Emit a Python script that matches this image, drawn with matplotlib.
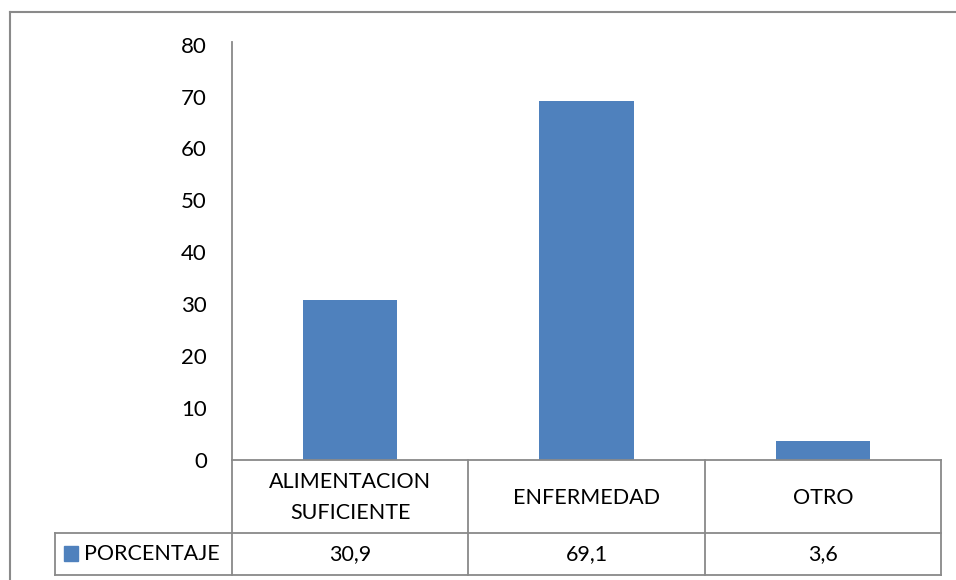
import matplotlib
matplotlib.use("Agg")
import matplotlib.pyplot as plt
from matplotlib.lines import Line2D
from matplotlib.patches import Rectangle
import matplotlib.transforms as mtransforms

categories = ["ALIMENTACION\nSUFICIENTE", "ENFERMEDAD", "OTRO"]
values = [30.9, 69.1, 3.6]
value_labels = ["30,9", "69,1", "3,6"]
series_name = "PORCENTAJE"
yticks = [0, 10, 20, 30, 40, 50, 60, 70, 80]

plt.rcParams['font.family'] = ['Lato', 'DejaVu Sans']

W, H = 956, 580
fig = plt.figure(figsize=(W / 100, H / 100), dpi=100)

def fx(px):
    return px / W

def fy(py):
    return 1 - py / H

ax_left, ax_right, ax_top, ax_bottom = 232, 941, 42, 460
ax = fig.add_axes([fx(ax_left), fy(ax_bottom), fx(ax_right - ax_left), (ax_bottom - ax_top) / H])

bar_color = "#4F81BD"
grid_color = "#898989"
x = list(range(len(categories)))
ax.bar(x, values, width=0.4, color=bar_color, zorder=2)
ax.set_xlim(-0.5, len(categories) - 0.5)
ax.set_ylim(0, 80.5)
ax.set_yticks(yticks)
ax.set_yticklabels([str(t) for t in yticks], fontsize=16)
ax.tick_params(axis='y', length=0, pad=18)
ax.set_xticks([])
for s in ["top", "right", "bottom"]:
    ax.spines[s].set_visible(False)
ax.spines["left"].set_color(grid_color)
ax.spines["left"].set_linewidth(1.3)

# Outer chart border (top and left visible)
fig.add_artist(Line2D([fx(10), 1.0], [fy(12), fy(12)], color="#8a8a8a", lw=1.5))
fig.add_artist(Line2D([fx(10), fx(10)], [fy(12), 0.0], color="#8a8a8a", lw=1.5))

# Data table
row1_top, row1_bot, row2_bot = 460, 533, 575
header_left = 55
lw = 1.3
def hline(y, x0, x1):
    fig.add_artist(Line2D([fx(x0), fx(x1)], [fy(y), fy(y)], color=grid_color, lw=lw))
def vline(xp, y0, y1):
    fig.add_artist(Line2D([fx(xp), fx(xp)], [fy(y0), fy(y1)], color=grid_color, lw=lw))

hline(row1_top, ax_left, ax_right)
hline(row1_bot, header_left, ax_right)
hline(row2_bot, header_left, ax_right)
vline(header_left, row1_bot, row2_bot)
col_w = (ax_right - ax_left) / len(categories)
for i in range(len(categories) + 1):
    vline(ax_left + i * col_w, row1_top, row2_bot)

# Category labels and values, positioned by data x
trans = mtransforms.blended_transform_factory(ax.transData, fig.transFigure)
for i, (c, v) in enumerate(zip(categories, value_labels)):
    fig.text(i, fy((row1_top + row1_bot) / 2 + 1), c, transform=trans, ha="center",
             va="center", fontsize=15.5, linespacing=1.7)
    fig.text(i, fy((row1_bot + row2_bot) / 2), v, transform=trans, ha="center",
             va="center", fontsize=15.5)

# Legend key + series name
fig.add_artist(Rectangle((fx(64), fy(561)), fx(14), 15 / H, color=bar_color))
fig.text(fx(84), fy((row1_bot + row2_bot) / 2), series_name, ha="left", va="center", fontsize=15.5)

fig.savefig("out.png", dpi=100, facecolor="white")
